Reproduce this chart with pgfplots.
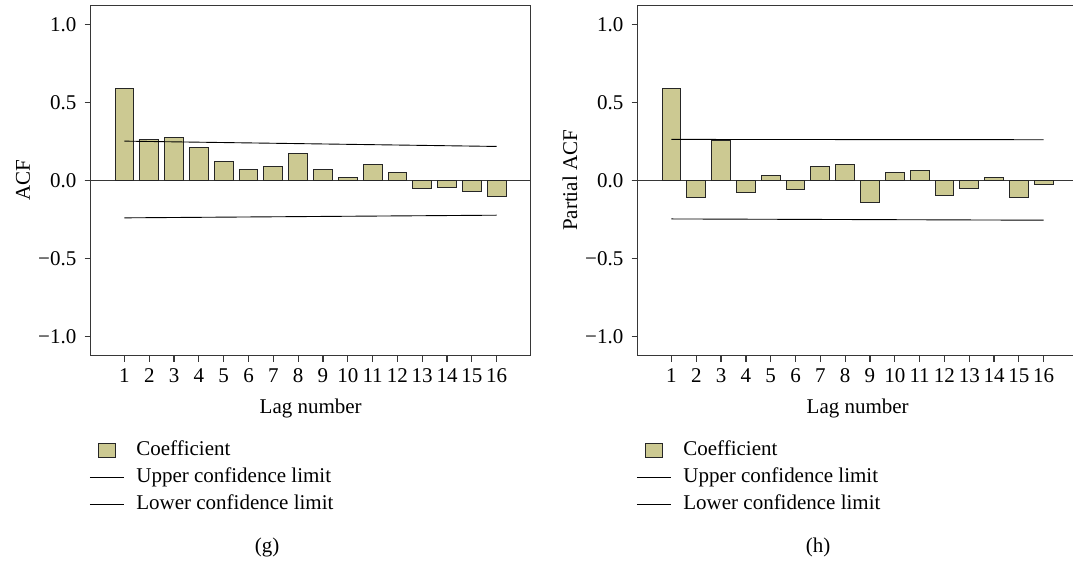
\documentclass[border=0pt]{standalone}
\usepackage{fontspec}
\setmainfont{Liberation Serif}
\usepackage{pgfplots}
\usepackage{pgfplotstable}
\pgfplotsset{compat=1.18}
\definecolor{barcol}{RGB}{204,201,146}
\definecolor{axcol}{RGB}{55,55,55}

\pgfplotstableread{
lag acf pacf
1 0.592 0.592
2 0.265 -0.111
3 0.273 0.256
4 0.209 -0.079
5 0.122 0.034
6 0.068 -0.056
7 0.092 0.092
8 0.173 0.100
9 0.068 -0.141
10 0.017 0.049
11 0.100 0.064
12 0.049 -0.096
13 -0.053 -0.053
14 -0.043 0.019
15 -0.068 -0.107
16 -0.105 -0.028
}\coefs

\pgfplotstableread{
lag up lo
1 0.252 -0.239
16 0.218 -0.222
}\limg

\pgfplotstableread{
lag up lo
1 0.263 -0.246
16 0.261 -0.254
}\limh

\pgfplotsset{acfstyle/.style={
  scale only axis, width=220pt, height=175pt,
  xmin=-0.36, xmax=17.37, ymin=-1.12, ymax=1.12,
  xtick={1,...,16}, ytick={-1,-0.5,0,0.5,1},
  yticklabels={−1.0,−0.5,0.0,0.5,1.0},
  tick align=outside, xtick pos=bottom, ytick pos=left,
  major tick length=3pt,
  axis line style={axcol, line width=0.6pt},
  tick style={axcol, line width=0.6pt},
  extra y ticks={0}, extra y tick labels={},
  extra y tick style={grid=major, major grid style={axcol, line width=0.6pt}},
  xlabel={Lag number},
  xlabel style={at={(axis description cs:0.5,-0.166)}, anchor=base},
  label style={font=\fontsize{10.5}{12}\selectfont},
  tick label style={font=\fontsize{10.5}{12}\selectfont},
  xticklabel style={inner sep=3.2pt},
  yticklabel style={inner sep=4pt},
  /pgf/number format/assume math mode=true,
  legend cell align=left,
  legend style={draw=none, fill=none, inner sep=0pt,
    at={(axis description cs:-0.004,-0.2314)}, anchor=north west,
    font=\fontsize{10.5}{12}\selectfont,
    column sep=4pt,
    nodes={inner sep=2pt, text height=7.2pt, text depth=2.3pt}},
}}

\begin{document}
\begin{tikzpicture}
\useasboundingbox (0,0) rectangle (536.5pt,-281.5pt);
\clip (0,0) rectangle (536.5pt,-281.5pt);

\begin{axis}[acfstyle, at={(45.35pt,-177.75pt)}, anchor=south west,
  ylabel={ACF}, ylabel style={at={(axis description cs:-0.154,0.5)}, anchor=center}]
\addplot[ybar, bar width=0.76, fill=barcol, draw=black!85, line width=0.5pt,
  legend image code/.code={\draw[fill=barcol,draw=black!85,line width=0.5pt] (0.15cm,-0.12cm) rectangle (0.46cm,0.115cm);}]
  table[x=lag, y=acf] {\coefs};
\addlegendentry{Coefficient}
\addplot[black, line width=0.45pt] table[x=lag, y=up] {\limg};
\addlegendentry{Upper confidence limit}
\addplot[black, line width=0.45pt] table[x=lag, y=lo] {\limg};
\addlegendentry{Lower confidence limit}
\end{axis}

\begin{axis}[acfstyle, at={(318.85pt,-177.75pt)}, anchor=south west,
  ylabel={Partial ACF}, ylabel style={at={(axis description cs:-0.154,0.5)}, anchor=center}]
\addplot[ybar, bar width=0.76, fill=barcol, draw=black!85, line width=0.5pt,
  legend image code/.code={\draw[fill=barcol,draw=black!85,line width=0.5pt] (0.15cm,-0.12cm) rectangle (0.46cm,0.115cm);}]
  table[x=lag, y=pacf] {\coefs};
\addlegendentry{Coefficient}
\addplot[black, line width=0.45pt] table[x=lag, y=up] {\limh};
\addlegendentry{Upper confidence limit}
\addplot[black, line width=0.45pt] table[x=lag, y=lo] {\limh};
\addlegendentry{Lower confidence limit}
\end{axis}

\node[font=\fontsize{10.5}{12}\selectfont, anchor=center] at (133.5pt,-273.5pt) {(g)};
\node[font=\fontsize{10.5}{12}\selectfont, anchor=center] at (409pt,-273.5pt) {(h)};
\end{tikzpicture}
\end{document}
